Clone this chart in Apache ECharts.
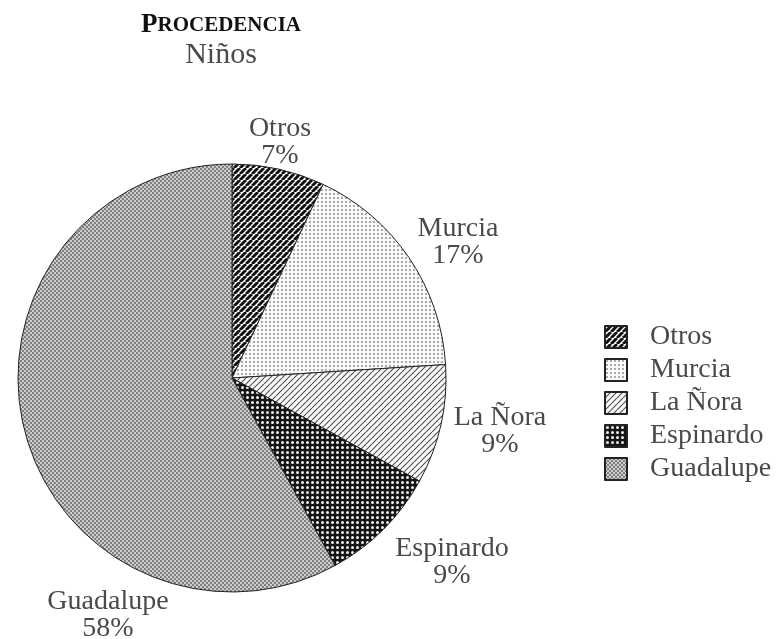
<!DOCTYPE html>
<html>
<head>
<meta charset="utf-8">
<script src="https://cdn.jsdelivr.net/npm/echarts@6/dist/echarts.min.js"></script>
<style>
  html, body { margin: 0; padding: 0; background: #fff; }
  #main { width: 780px; height: 639px; }
</style>
</head>
<body>
<div id="main"></div>
<script>
// datos
const categories = ['Otros', 'Murcia', 'La Ñora', 'Espinardo', 'Guadalupe']
const values = [7, 17, 9, 9, 58]
// centro de cada etiqueta (px)
const labelPos = [[280, 142], [458, 242], [500, 431], [452, 562], [108, 615]]

// tramas tipo blanco y negro
function tile (size, draw) {
  const c = document.createElement('canvas')
  c.width = c.height = size
  const g = c.getContext('2d')
  draw(g, size)
  return { image: c, repeat: 'repeat' }
}
function stripes (bg, fg, w) {
  return tile(6, (g, s) => {
    g.fillStyle = bg
    g.fillRect(0, 0, s, s)
    g.strokeStyle = fg
    g.lineWidth = w
    g.beginPath()
    for (const k of [-s, 0, s]) {
      g.moveTo(k, s)
      g.lineTo(k + s, 0)
    }
    g.stroke()
  })
}
const patterns = [
  stripes('#fff', '#111', 3),
  tile(4, (g, s) => {
    g.fillStyle = '#fafafa'
    g.fillRect(0, 0, s, s)
    g.fillStyle = '#444'
    g.beginPath()
    g.arc(2, 2, 0.8, 0, Math.PI * 2)
    g.fill()
  }),
  stripes('#fafafa', '#555', 1.2),
  tile(5, (g, s) => {
    g.fillStyle = '#151515'
    g.fillRect(0, 0, s, s)
    g.fillStyle = '#eee'
    g.beginPath()
    g.arc(2.5, 2.5, 1.5, 0, Math.PI * 2)
    g.fill()
  }),
  tile(4, (g, s) => {
    g.fillStyle = '#cdcdcd'
    g.fillRect(0, 0, s, s)
    g.fillStyle = '#808080'
    g.fillRect(0, 0, 2, 2)
    g.fillRect(2, 2, 2, 2)
  })
]

const serif = '"Liberation Serif", "DejaVu Serif", serif'
const chart = echarts.init(document.getElementById('main'))
const option = {
  animation: false,
  backgroundColor: '#fff',
  title: {
    left: 216,
    top: 7,
    textAlign: 'center',
    text: '{a|P}{b|ROCEDENCIA}',
    textStyle: {
      rich: {
        a: { fontFamily: serif, fontWeight: 'bold', fontSize: 27, color: '#111' },
        b: { fontFamily: serif, fontWeight: 'bold', fontSize: 21, color: '#111' }
      }
    },
    subtext: 'Niños',
    itemGap: 1,
    subtextStyle: { fontFamily: serif, fontSize: 30, color: '#4a4a4a' }
  },
  legend: {
    orient: 'vertical',
    left: 599,
    top: 318,
    itemWidth: 22,
    itemHeight: 22,
    itemGap: 5,
    icon: 'rect',
    data: categories,
    textStyle: {
      fontFamily: serif,
      fontSize: 28,
      color: '#4a4a4a',
      padding: [0, 0, 0, 18]
    }
  },
  series: [
    {
      type: 'pie',
      center: [232, 378],
      radius: 214,
      startAngle: 90,
      clockwise: true,
      avoidLabelOverlap: false,
      itemStyle: { borderColor: '#222', borderWidth: 1 },
      label: {
        position: 'outside',
        formatter: '{b}\n{d}%',
        fontFamily: serif,
        fontSize: 28,
        lineHeight: 27,
        color: '#4a4a4a',
        align: 'center'
      },
      labelLine: { show: false },
      labelLayout: p => ({
        x: labelPos[p.dataIndex][0],
        y: labelPos[p.dataIndex][1],
        align: 'center',
        verticalAlign: 'middle'
      }),
      emphasis: { disabled: true },
      data: categories.map((name, i) => ({
        name,
        value: values[i],
        itemStyle: { color: patterns[i] }
      }))
    }
  ]
}
option && chart.setOption(option)
</script>
</body>
</html>
